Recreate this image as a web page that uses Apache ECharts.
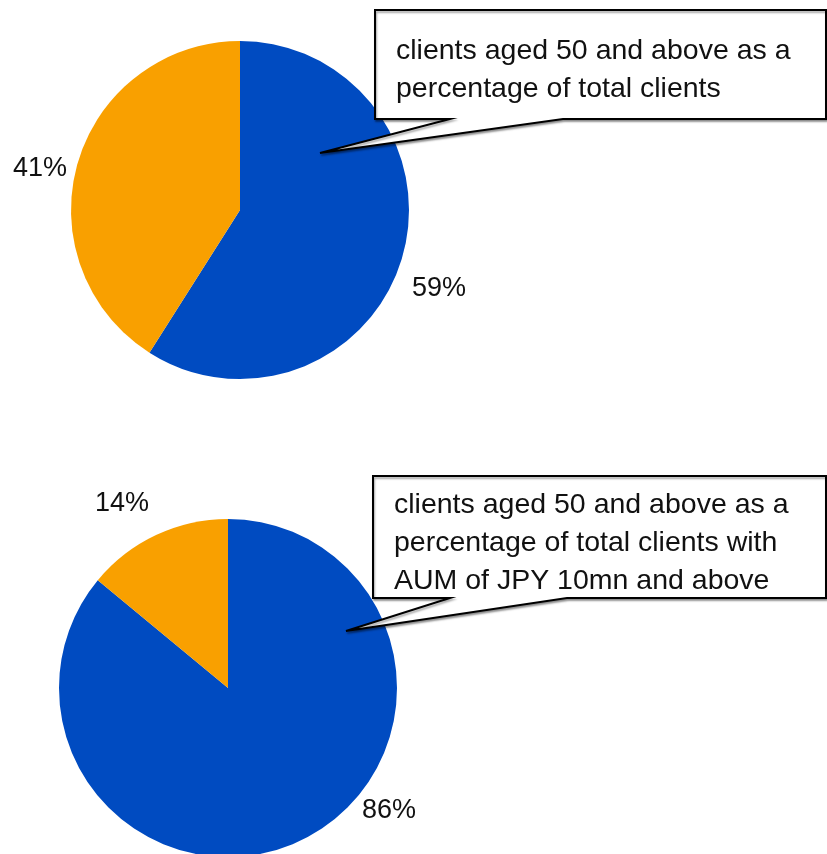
<!DOCTYPE html>
<html>
<head>
<meta charset="utf-8">
<script src="https://cdn.jsdelivr.net/npm/echarts@6/dist/echarts.min.js"></script>
<style>
  html, body { margin: 0; padding: 0; background: #ffffff; }
  #chart { width: 827px; height: 854px; }
</style>
</head>
<body>
<div id="chart"></div>
<script>
// Client age groups
const categories = ['aged 50 and above', 'under 50'];
// Share of all clients (%)
const shareTotal = [59, 41];
// Share of clients with AUM of JPY 10mn and above (%)
const shareAum = [86, 14];
// Callout captions
const captionTotal = 'clients aged 50 and above as a\npercentage of total clients';
const captionAum = 'clients aged 50 and above as a\npercentage of total clients with\nAUM of JPY 10mn and above';

const colors = ['#004BC1', '#F9A000'];
const font = '"Liberation Sans", Arial, sans-serif';

// Percentage labels sit beside their slices
function pieSeries(name, values, center, labelSpots) {
  return {
    type: 'pie',
    name: name,
    center: center,
    radius: 169,
    startAngle: 90,
    clockwise: true,
    silent: true,
    animation: false,
    data: categories.map((c, i) => ({ name: c, value: values[i] })),
    label: {
      show: true,
      position: 'outside',
      formatter: p => p.value + '%',
      fontFamily: font,
      fontSize: 27,
      color: '#111111',
      overflow: 'none'
    },
    labelLine: { show: false },
    labelLayout: p => ({
      x: labelSpots[p.dataIndex][0],
      y: labelSpots[p.dataIndex][1],
      align: 'center',
      verticalAlign: 'middle'
    }),
    itemStyle: { borderWidth: 0 }
  };
}

// Speech-bubble callout: a box with a wedge pointing into the pie
function callout(left, top, right, bottom, baseA, baseB, tip, text, textTop) {
  return [
    {
      type: 'polygon',
      shape: {
        points: [
          [left, top], [right, top], [right, bottom],
          [baseB, bottom], tip, [baseA, bottom], [left, bottom]
        ]
      },
      style: {
        fill: '#ffffff',
        stroke: '#000000',
        lineWidth: 2,
        shadowColor: 'rgba(0,0,0,0.35)',
        shadowBlur: 2,
        shadowOffsetX: 1,
        shadowOffsetY: 2
      },
      z: 10
    },
    {
      type: 'text',
      x: left + 21,
      y: textTop,
      style: {
        text: text,
        font: '28.5px ' + font,
        fill: '#111111',
        lineHeight: 38,
        textVerticalAlign: 'top'
      },
      z: 11
    }
  ];
}

const chart = echarts.init(document.getElementById('chart'), null, { renderer: 'canvas' });
chart.setOption({
  backgroundColor: '#ffffff',
  color: colors,
  animation: false,
  series: [
    pieSeries('total clients', shareTotal, [240, 210], [[439, 289], [40, 169]]),
    pieSeries('AUM of JPY 10mn and above', shareAum, [228, 688], [[389, 811], [122, 504]])
  ],
  graphic: [].concat(
    callout(375, 10, 826, 119, 450, 563, [320, 153], captionTotal, 32),
    callout(373, 476, 826, 598, 450, 567, [346, 631], captionAum, 486)
  )
});
</script>
</body>
</html>
